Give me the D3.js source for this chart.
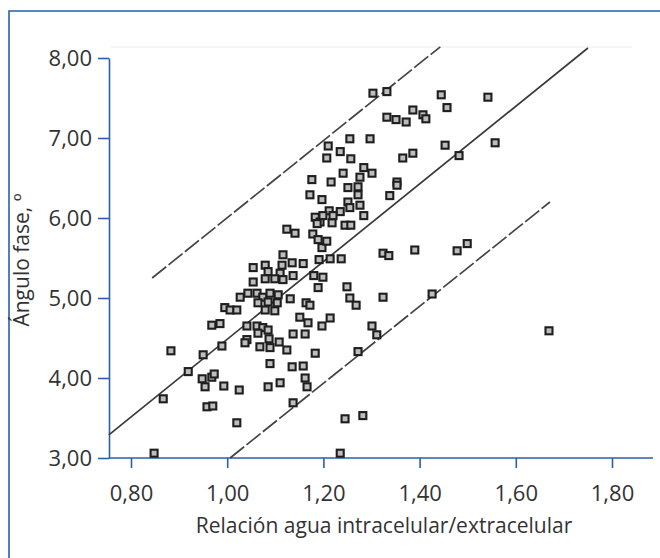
<!DOCTYPE html>
<html>
<head>
<meta charset="utf-8">
<script src="https://cdn.jsdelivr.net/npm/d3@7"></script>
<style>
  html, body { margin: 0; padding: 0; background: #fff; }
  svg { display: block; }
  text { font-family: "Open Sans", "Noto Sans", sans-serif; fill: #333; }
</style>
</head>
<body>
<svg id="chart" width="660" height="558"></svg>
<script>
// ---- Data ----
const xTicks = [0.8, 1.0, 1.2, 1.4, 1.6, 1.8];
const yTicks = [3, 4, 5, 6, 7, 8];
const xTitle = "Relación agua intracelular/extracelular";
const yTitle = "Ángulo fase, º";

const ratio = [
  1.303,1.332,1.445,1.457,1.542,1.557,1.453,1.482,1.332,1.351,
  1.372,1.386,1.407,1.413,1.255,1.297,1.210,1.235,1.207,1.257,
  1.365,1.386,1.284,1.276,1.301,1.241,1.176,1.216,1.272,1.251,
  1.353,1.353,1.172,1.338,1.272,1.197,1.251,1.212,1.235,1.276,
  1.255,1.284,1.183,1.193,1.199,1.218,1.187,1.245,1.257,1.124,
  1.141,1.178,1.189,1.197,1.324,1.336,1.390,1.478,1.499,1.191,
  1.214,1.237,1.116,1.220,1.207,
  1.054,1.079,1.114,1.135,1.158,1.085,1.110,1.054,1.079,1.099,
  1.116,1.137,1.180,1.199,1.189,1.249,1.027,1.043,1.062,1.074,
  1.089,1.106,1.131,1.064,1.085,1.104,1.079,1.099,0.995,1.006,
  1.020,1.164,1.172,1.151,1.168,0.968,0.985,1.041,1.062,1.074,
  1.085,1.041,1.037,1.064,1.087,1.108,1.137,1.162,0.989,1.068,
  1.089,1.124,1.183,0.883,0.950,0.919,1.089,1.135,1.158,0.948,
  0.968,0.973,0.954,0.993,1.025,1.085,1.110,1.162,1.166,0.867,
  0.958,0.970,1.137,1.020,0.848,1.235,1.255,1.324,1.426,1.669,
  1.214,1.197,1.268,1.272,1.301,1.311,1.245,1.282
];
const angle = [
  7.56,7.58,7.54,7.38,7.51,6.94,6.91,6.78,7.26,7.23,
  7.20,7.35,7.29,7.24,6.99,6.99,6.90,6.83,6.75,6.74,
  6.75,6.81,6.63,6.51,6.56,6.56,6.48,6.45,6.39,6.38,
  6.45,6.41,6.29,6.28,6.29,6.23,6.20,6.09,6.08,6.16,
  6.13,6.03,6.01,5.95,6.03,5.94,5.93,5.91,5.91,5.86,
  5.81,5.80,5.73,5.63,5.56,5.53,5.60,5.59,5.68,5.48,
  5.49,5.49,5.54,6.03,5.71,
  5.38,5.41,5.41,5.44,5.43,5.33,5.31,5.20,5.24,5.24,
  5.23,5.28,5.28,5.26,5.13,5.14,5.01,5.06,5.06,5.01,
  5.06,5.04,4.99,4.94,4.95,4.94,4.85,4.84,4.88,4.85,
  4.85,4.94,4.91,4.76,4.69,4.66,4.68,4.65,4.65,4.63,
  4.60,4.48,4.44,4.56,4.49,4.45,4.55,4.55,4.40,4.39,
  4.38,4.35,4.31,4.34,4.29,4.08,4.18,4.14,4.15,3.99,
  4.01,4.05,3.89,3.90,3.85,3.89,3.94,4.00,3.89,3.74,
  3.64,3.65,3.69,3.44,3.06,3.06,5.00,5.01,5.05,4.59,
  4.75,4.65,4.91,4.33,4.65,4.54,3.49,3.53
];

// regression line and 95% prediction limits (endpoints in data units)
const fitLine   = [[0.754, 3.29], [1.750, 8.125]];
const upperLine = [[0.844, 5.25], [1.443, 8.14]];
const lowerLine = [[1.006, 3.00], [1.671, 6.20]];

// ---- Layout ----
const svg = d3.select("#chart");
const blue = "#2a5fa9";
const x = d3.scaleLinear().domain([0.8, 1.8]).range([131, 612]);
const y = d3.scaleLinear().domain([3, 8]).range([458, 58]);
const fmt = d => d.toFixed(2).replace(".", ",");

// outer frame (left + top)
svg.append("path")
  .attr("d", "M9,558 V11 H660")
  .attr("fill", "none").attr("stroke", blue).attr("stroke-width", 1.6);

// faint top line of plot area
svg.append("line")
  .attr("x1", 111).attr("x2", 632).attr("y1", 47).attr("y2", 47)
  .attr("stroke", "#ebebeb").attr("stroke-width", 1);

// y axis
const gy = svg.append("g").attr("transform", "translate(109,0)")
  .call(d3.axisLeft(y).tickValues(yTicks).tickFormat(fmt)
        .tickSize(11).tickSizeOuter(0).tickPadding(6));
gy.selectAll("path, line").attr("stroke", blue).attr("stroke-width", 1.6);
gy.selectAll("text").attr("font-size", 22).attr("fill", "#333")
  .style("font-family", '"Open Sans", sans-serif');

// x axis
const gx = svg.append("g").attr("transform", "translate(0,458)")
  .call(d3.axisBottom(x).tickValues(xTicks).tickFormat(fmt)
        .tickSize(10).tickSizeOuter(0).tickPadding(17));
gx.select(".domain").remove();
gx.selectAll("line").attr("stroke", blue).attr("stroke-width", 1.6);
gx.selectAll("text").attr("font-size", 22).attr("fill", "#333")
  .style("font-family", '"Open Sans", sans-serif');
svg.append("line")
  .attr("x1", 109).attr("x2", 653).attr("y1", 458).attr("y2", 458)
  .attr("stroke", blue).attr("stroke-width", 1.6);

// lines
const lineGen = d3.line().x(d => x(d[0])).y(d => y(d[1]));
svg.append("path").attr("d", lineGen(fitLine))
  .attr("fill", "none").attr("stroke", "#3a3a3a").attr("stroke-width", 1.7);
[upperLine, lowerLine].forEach(l => {
  svg.append("path").attr("d", lineGen(l))
    .attr("fill", "none").attr("stroke", "#444").attr("stroke-width", 1.7)
    .attr("stroke-dasharray", "18,3");
});

// points
const pts = ratio.map((r, i) => [r, angle[i]]);
const s = 7;
svg.append("g").selectAll("rect").data(pts).join("rect")
  .attr("x", d => x(d[0]) - s / 2)
  .attr("y", d => y(d[1]) - s / 2)
  .attr("width", s).attr("height", s)
  .attr("fill", "#bdbdbd")
  .attr("stroke", "#1e1e1e").attr("stroke-width", 2.1);

// titles
svg.append("text")
  .attr("x", 384).attr("y", 533)
  .attr("text-anchor", "middle").attr("font-size", 21)
  .text(xTitle);
svg.append("text")
  .attr("transform", "translate(29,260) rotate(-90)")
  .attr("text-anchor", "middle").attr("font-size", 21)
  .text(yTitle);
</script>
</body>
</html>
